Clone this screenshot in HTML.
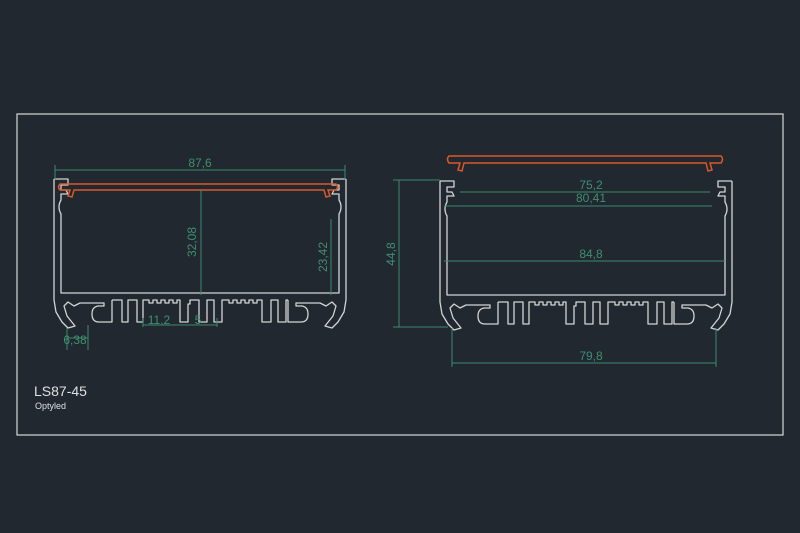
<!DOCTYPE html>
<html><head><meta charset="utf-8"><style>
html,body{margin:0;padding:0;background:#212830;width:800px;height:533px;overflow:hidden}
svg{display:block}
text{font-family:"Liberation Sans",sans-serif}
</style></head><body>
<svg width="800" height="533" viewBox="0 0 800 533" xmlns="http://www.w3.org/2000/svg">
<rect x="0" y="0" width="800" height="533" fill="#212830"/>
<rect x="17" y="114" width="766" height="321" fill="none" stroke="#d8d8d8" stroke-width="1.2"/>
<defs>
<g id="foot">
  <path d="M54,179 H68 V185 H61 V190 H66 L68,194 H61 V200 Q57,207 61,214 V293 H200"/>
  <path d="M54,179 V300 L56,312 L62,322 L68,328 L75,326 L67,316 L64,306 L68,302 L74,306 L80,303 H104 V306 H98 Q92,307 92,314 Q92,322 99,322 H112 V300"/>
</g>
<g id="prof" fill="none" stroke="#d4d4d4" stroke-width="1.3" stroke-linejoin="round">
  <use href="#foot"/>
  <use href="#foot" transform="translate(400,0) scale(-1,1)"/>
  <path d="M112,300 H122 V322 H128 V300 H137 V322 H143 V300 H149 V303 H153 V300 H157 V303 H161 V300 H165 V303 H169 V300 H173 V303 H177 V300 H180 V322 H188 V304 H190 V300 H199 V322 H207 V300 H214 V322 H222 V300 H229 V303 H233 V300 H237 V303 H241 V300 H245 V303 H249 V300 H253 V303 H257 V300 H262 V322 H271 V300 H278 V322 H286 V300 H288"/>
</g>
</defs>
<use href="#prof"/>
<use href="#prof" transform="translate(386,2)"/>
<path d="M60,184 H336 Q339,187 336,190 H328 L330,196 L326,197 L324,190 H74 L72,197 L68,196 L70,190 H60 Q57,187 60,184 Z" fill="none" stroke="#d9582a" stroke-width="1.5"/>
<path d="M449,156 H721 Q724,159 721,163 H710 L712,170 L708,171 L706,163 H464 L462,171 L458,170 L460,163 H449 Q446,159 449,156 Z" fill="none" stroke="#d9582a" stroke-width="1.5"/>
<g stroke="#3c8a6c" stroke-width="1" fill="#3c8a6c">
  <line x1="55" y1="165" x2="55" y2="180"/><line x1="345" y1="165" x2="345" y2="180"/>
  <line x1="55" y1="170" x2="345" y2="170"/>
  <line x1="201" y1="190" x2="201" y2="295"/>
  <line x1="331" y1="219" x2="331" y2="295"/>
  <line x1="143" y1="325" x2="217" y2="325"/>
  <line x1="143" y1="318" x2="143" y2="327"/><line x1="217" y1="318" x2="217" y2="327"/>
  <line x1="67" y1="338" x2="88" y2="338"/>
  <line x1="67" y1="328" x2="67" y2="350"/><line x1="88" y1="325" x2="88" y2="350"/>
  <line x1="399" y1="180" x2="399" y2="327"/>
  <line x1="393" y1="180" x2="440" y2="180"/><line x1="393" y1="327" x2="448" y2="327"/>
  <line x1="460" y1="192" x2="710" y2="192"/>
  <line x1="445" y1="206" x2="712" y2="206"/>
  <line x1="444" y1="261" x2="725" y2="261"/>
  <line x1="452" y1="363" x2="716" y2="363"/>
  <line x1="452" y1="328" x2="452" y2="367"/><line x1="716" y1="328" x2="716" y2="367"/>
</g>
<g font-size="12" fill="#3f8f70" text-anchor="middle">
  <text x="200" y="167">87,6</text>
  <text x="196" y="242" transform="rotate(-90 196 242)">32,08</text>
  <text x="327" y="257" transform="rotate(-90 327 257)">23,42</text>
  <text x="159" y="324">11,2</text>
  <text x="198" y="324">5</text>
  <text x="75" y="344">6,38</text>
  <text x="395" y="254" transform="rotate(-90 395 254)">44,8</text>
  <text x="591" y="189">75,2</text>
  <text x="591" y="202">80,41</text>
  <text x="591" y="258">84,8</text>
  <text x="591" y="360">79,8</text>
</g>
<text x="34" y="396" font-size="14" fill="#e0e0e0">LS87-45</text>
<text x="35" y="409" font-size="9" fill="#e0e0e0">Optyled</text>
</svg>
</body></html>
